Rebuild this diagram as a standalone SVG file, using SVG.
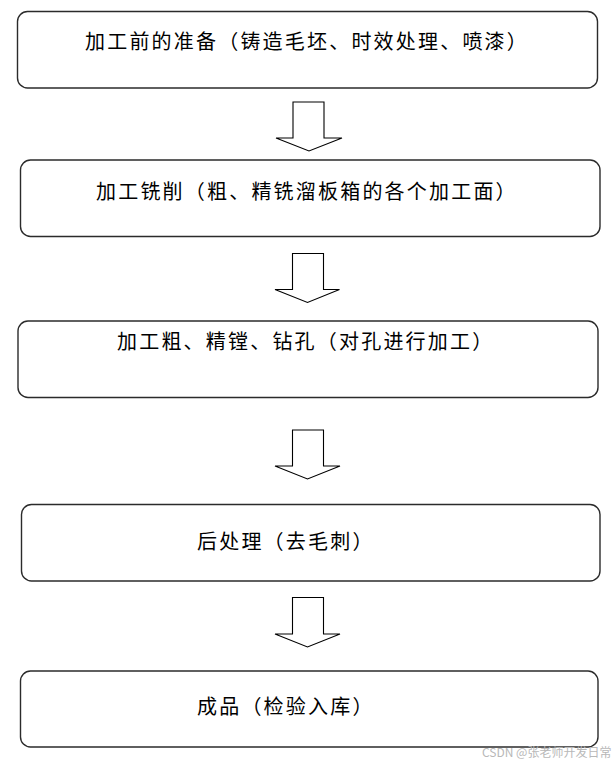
<svg xmlns="http://www.w3.org/2000/svg" width="614" height="764" viewBox="0 0 614 764">
<style>
.box{fill:#fff;stroke:#2b2b2b;stroke-width:1.4}
.arr{fill:#fff;stroke:#000;stroke-width:1.1;stroke-linejoin:miter}
.t{font-family:"Noto Sans CJK SC","Noto Sans",sans-serif;font-size:20px;fill:#000;letter-spacing:2.2px}
.wm{font-family:"Noto Sans CJK SC","Liberation Sans",sans-serif;font-size:12px;fill:#b8b8b8}
</style>
<rect width="614" height="764" fill="#fff"/>
<g id="n1"><rect class="box" x="17.5" y="11.5" width="580" height="76.5" rx="10"/><text class="t" x="85" y="49">加工前的准备（铸造毛坯、时效处理、喷漆）</text></g>
<g id="n2"><rect class="box" x="20.5" y="160" width="579.5" height="76.5" rx="10"/><text class="t" x="96" y="199">加工铣削（粗、精铣溜板箱的各个加工面）</text></g>
<g id="n3"><rect class="box" x="18" y="321" width="580" height="76.5" rx="10"/><text class="t" x="117" y="349">加工粗、精镗、钻孔（对孔进行加工）</text></g>
<g id="n4"><rect class="box" x="21.5" y="504.5" width="578.5" height="76.5" rx="10"/><text class="t" x="197" y="549">后处理（去毛刺）</text></g>
<g id="n5"><rect class="box" x="20.5" y="671" width="577.5" height="76" rx="10"/><text class="t" x="197" y="714">成品（检验入库）</text></g>
<g id="connectors">
<path class="arr" d="M293 102H324V138H342L309 151L276 138H293Z"/>
<path class="arr" d="M292.5 253.5H323.5V289.5H339.5L307.5 302.5L275 289.5H292.5Z"/>
<path class="arr" d="M292.5 430H323.5V466H340L307.5 479L275 466H292.5Z"/>
<path class="arr" d="M292.5 597.5H323.5V634H340L307.5 647L275 634H292.5Z"/>
</g>
<text class="wm" x="482" y="757">CSDN @张老师开发日常</text>
</svg>
